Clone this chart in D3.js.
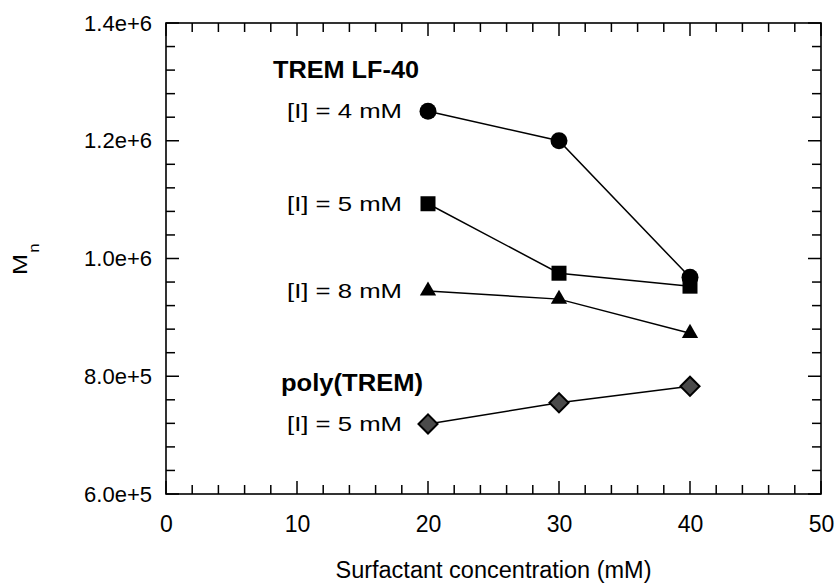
<!DOCTYPE html>
<html>
<head>
<meta charset="utf-8">
<script src="https://cdn.jsdelivr.net/npm/d3@7"></script>
<style>
  html, body { margin: 0; padding: 0; background: #fff; }
  svg { display: block; font-family: "Liberation Sans", Arial, Helvetica, sans-serif; }
</style>
</head>
<body>
<svg id="chart" width="838" height="588"></svg>
<script>
// Surfactant concentration (mM)
const concentrations = [20, 30, 40];

// Number-average molecular weight for each initiator level
const trem4mM   = [1250000, 1200000, 968000];
const trem5mM   = [1093000, 975000, 953000];
const trem8mM   = [945000, 931000, 873000];
const poly5mM   = [719000, 755000, 783000];

const seriesLabels = ["[I] = 4 mM", "[I] = 5 mM", "[I] = 8 mM", "[I] = 5 mM"];
const groupLabels  = ["TREM LF-40", "poly(TREM)"];

const xTicks = [0, 10, 20, 30, 40, 50];
const yTicks = [600000, 800000, 1000000, 1200000, 1400000];
const yTickLabels = ["6.0e+5", "8.0e+5", "1.0e+6", "1.2e+6", "1.4e+6"];

const svg = d3.select("#chart");
const plotL = 166, plotR = 821, plotT = 23, plotB = 494;

const x = d3.scaleLinear().domain([0, 50]).range([plotL, plotR]);
const y = d3.scaleLinear().domain([600000, 1400000]).range([plotB, plotT]);

const g = svg.append("g");

// frame
g.append("rect")
  .attr("x", plotL).attr("y", plotT)
  .attr("width", plotR - plotL).attr("height", plotB - plotT)
  .attr("fill", "none").attr("stroke", "#000").attr("stroke-width", 1.6);

// tick marks on all four sides, pointing inward
const xMinor = d3.range(0, 50.001, 2);
const yMinor = d3.range(600000, 1400001, 40000);
const isMajorX = v => Math.abs(v % 10) < 1e-6;
const isMajorY = v => Math.abs(v % 200000) < 1e-3;

const tickG = g.append("g").attr("stroke", "#000").attr("stroke-width", 1.5);
xMinor.forEach(v => {
  const len = isMajorX(v) ? 13 : 9;
  tickG.append("line").attr("x1", x(v)).attr("x2", x(v)).attr("y1", plotB).attr("y2", plotB - len);
  tickG.append("line").attr("x1", x(v)).attr("x2", x(v)).attr("y1", plotT).attr("y2", plotT + len);
});
yMinor.forEach(v => {
  const len = isMajorY(v) ? 13 : 9;
  tickG.append("line").attr("y1", y(v)).attr("y2", y(v)).attr("x1", plotL).attr("x2", plotL + len);
  tickG.append("line").attr("y1", y(v)).attr("y2", y(v)).attr("x1", plotR).attr("x2", plotR - len);
});

// axis tick labels
const xAxis = d3.axisBottom(x).tickValues(xTicks).tickSize(0).tickPadding(22).tickFormat(d3.format("d"));
g.append("g").attr("transform", `translate(0,${plotB})`).call(xAxis)
  .call(a => a.select(".domain").remove())
  .selectAll("text").attr("font-size", 23).attr("fill", "#000")
  .attr("font-family", "Liberation Sans, Arial, sans-serif");

const yAxis = d3.axisLeft(y).tickValues(yTicks).tickSize(0).tickPadding(14)
  .tickFormat((d, i) => yTickLabels[i]);
g.append("g").attr("transform", `translate(${plotL},0)`).call(yAxis)
  .call(a => a.select(".domain").remove())
  .selectAll("text").attr("font-size", 22).attr("fill", "#000")
  .attr("font-family", "Liberation Sans, Arial, sans-serif");

// axis titles
svg.append("text")
  .attr("x", (plotL + plotR) / 2).attr("y", 578)
  .attr("text-anchor", "middle").attr("font-size", 23.5)
  .text("Surfactant concentration (mM)");

const yt = svg.append("text")
  .attr("transform", "translate(27,275) rotate(-90) scale(1.2,1)")
  .attr("font-size", 21);
yt.append("tspan").text("M");
yt.append("tspan").attr("dx", 1).attr("dy", 12).attr("font-size", 14).text("n");

// series
const series = [
  { values: trem4mM, shape: "circle",   labelWidth: 115 },
  { values: trem5mM, shape: "square",   labelWidth: 115 },
  { values: trem8mM, shape: "triangle", labelWidth: 115 },
  { values: poly5mM, shape: "diamond",  labelWidth: 115 }
];

const line = d3.line().x((d, i) => x(concentrations[i])).y(d => y(d));

series.forEach(s => {
  g.append("path").attr("d", line(s.values))
    .attr("fill", "none").attr("stroke", "#000").attr("stroke-width", 1.5);
});

const symbols = {
  circle:   d3.symbol().type(d3.symbolCircle).size(Math.PI * 8.5 * 8.5),
  square:   d3.symbol().type(d3.symbolSquare).size(15 * 15),
  triangle: d3.symbol().type(d3.symbolTriangle).size(115),
  diamond:  d3.symbol().type(d3.symbolSquare).size(13.5 * 13.5)
};

series.forEach(s => {
  s.values.forEach((v, i) => {
    const p = g.append("path")
      .attr("d", symbols[s.shape]())
      .attr("transform", `translate(${x(concentrations[i])},${y(v)})` + (s.shape === "diamond" ? " rotate(45)" : ""));
    if (s.shape === "diamond") {
      p.attr("fill", "#4a4a4a").attr("stroke", "#000").attr("stroke-width", 2);
    } else {
      p.attr("fill", "#000");
    }
  });
});

// annotations
const labelX = 402;
series.forEach((s, k) => {
  svg.append("text")
    .attr("x", labelX - s.labelWidth).attr("y", y(s.values[0]) + 7)
    .attr("font-size", 21)
    .attr("textLength", s.labelWidth).attr("lengthAdjust", "spacingAndGlyphs")
    .text(seriesLabels[k]);
});
svg.append("text").attr("x", 273).attr("y", 78)
  .attr("font-size", 23).attr("font-weight", "bold")
  .attr("textLength", 146).attr("lengthAdjust", "spacingAndGlyphs")
  .text(groupLabels[0]);
svg.append("text").attr("x", 281).attr("y", 391)
  .attr("font-size", 23).attr("font-weight", "bold")
  .attr("textLength", 142).attr("lengthAdjust", "spacingAndGlyphs")
  .text(groupLabels[1]);
</script>
</body>
</html>
